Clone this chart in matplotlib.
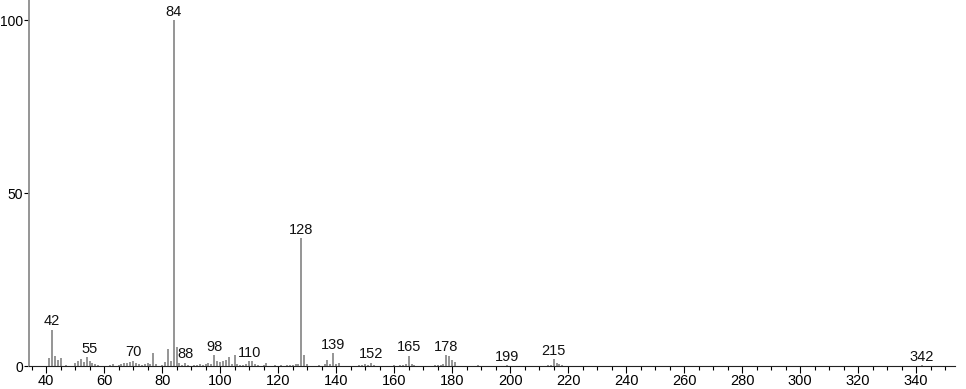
import numpy as np
import matplotlib.pyplot as plt
from matplotlib.ticker import MultipleLocator

plt.rcParams['font.family'] = ['Liberation Sans', 'DejaVu Sans']

# m/z values and relative intensities
mz = [41, 42, 43, 44, 45, 47,
      50, 51, 52, 53, 54, 55, 56, 57, 58,
      62, 63, 65, 66, 67, 68, 69, 70, 71, 72, 73, 74, 75, 76, 77, 78,
      80, 81, 82, 83, 84, 85, 86, 87, 88, 89,
      91, 92, 93, 94, 95, 96, 97, 98, 99, 100, 101, 102, 103, 104, 105,
      106, 107, 108, 109, 110, 111, 112, 113, 115, 116,
      119, 121, 123, 124, 125, 126, 127, 128, 129, 130,
      134, 136, 137, 138, 139, 140, 141,
      148, 149, 150, 151, 152, 153,
      160, 162, 163, 164, 165, 166, 167,
      174, 175, 176, 177, 178, 179, 180, 181,
      189, 199,
      213, 214, 215, 216, 217, 218,
      342]
intensity = [2.3, 10.5, 3.0, 1.8, 2.3, 0.3,
             0.8, 1.6, 2.0, 1.3, 2.6, 1.4, 0.8, 0.5,  0.3,
             0.3, 0.5, 0.4, 0.6, 0.8, 0.8, 1.2, 1.6, 1.0, 0.5, 0.4, 0.5, 0.9, 0.6, 3.9, 0.5,
             0.4, 1.2, 5.0, 1.6, 100.0, 5.5, 1.0, 0.4, 1.0, 0.4,
             0.3, 0.4, 0.5, 0.4, 0.6, 0.8, 0.7, 3.2, 1.6, 1.2, 1.4, 1.7, 2.7, 0.6, 3.1,
             0.5, 0.4, 0.3, 0.5, 1.4, 1.4, 0.6, 0.3, 0.4, 0.8,
             0.3, 0.3, 0.3, 0.4, 0.4, 0.5, 0.6, 37.0, 3.1, 0.5,
             0.3, 0.5, 1.7, 0.5, 3.8, 0.6, 0.8,
             0.3, 0.4, 0.7, 0.4, 1.0, 0.3,
             0.3, 0.3, 0.4, 0.5, 3.0, 0.5, 0.3,
             0.3, 0.4, 0.4, 0.5, 3.1, 3.0, 1.7, 1.2,
             0.2, 0.3,
             0.3, 0.4, 2.0, 1.0, 0.6, 0.3,
             0.3]
labeled = [42, 55, 70, 84, 88, 98, 110, 128, 139, 152, 165, 178, 199, 215, 342]

fig = plt.figure(figsize=(9.66, 3.89), dpi=100)
ax = fig.add_axes([0.030, 0.059, 0.9586, 0.941])

ax.vlines(mz, 0, intensity, color='#8c8c8c', linewidth=1.3)

# peak labels sit just above the tallest bar around them
for m in labeled:
    near = [h for x, h in zip(mz, intensity) if abs(x - m) <= 1]
    top = max(near)
    ax.annotate(str(m), (m, top), xytext=(0, 1), textcoords='offset points',
                ha='center', va='bottom', fontsize=10.5, color='#111111')

ax.set_xlim(34.1, 353.4)
ax.set_ylim(0, 105.8)
ax.xaxis.set_major_locator(MultipleLocator(20))
ax.xaxis.set_minor_locator(MultipleLocator(5))
ax.set_xticks(np.arange(40, 341, 20))
ax.set_yticks([0, 50, 100])
ax.tick_params(axis='x', which='major', length=5, width=0.8, labelsize=10.5, pad=1)
ax.tick_params(axis='x', which='minor', length=3, width=0.8)
ax.tick_params(axis='y', length=3.5, width=0.8, labelsize=10, pad=0.5)

for s in ['top', 'right']:
    ax.spines[s].set_visible(False)
ax.spines['left'].set_color('#8c8c8c')
ax.spines['left'].set_linewidth(1.3)
ax.spines['bottom'].set_color('#222222')
ax.spines['bottom'].set_linewidth(0.8)

fig.savefig('out.png', dpi=100)
